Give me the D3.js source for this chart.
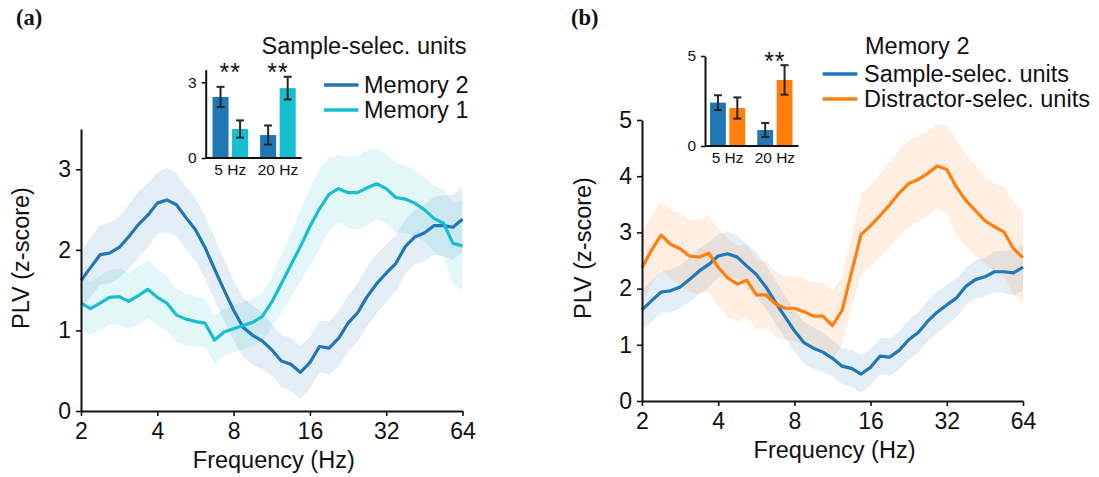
<!DOCTYPE html>
<html>
<head>
<meta charset="utf-8">
<script src="https://cdn.jsdelivr.net/npm/d3@7"></script>
<style>
  body { margin: 0; background: #fff; }
  text { font-family: "Liberation Sans", Arial, Helvetica, sans-serif; fill: #111; }
  .domain { stroke: #111; stroke-width: 2; }
  .tick line { stroke: #111; stroke-width: 1.6; }
  .panel-label { font-family: "Liberation Serif", "Times New Roman", serif; font-weight: bold; font-size: 22.5px; }
</style>
</head>
<body>
<div id="box-div"></div>
<script>
// frequency grid (Hz), 1/8 octave steps
const freqs = [2.00, 2.18, 2.38, 2.59, 2.83, 3.08, 3.36, 3.67, 4.00, 4.36,
    4.76, 5.19, 5.66, 6.17, 6.73, 7.34, 8.00, 8.72, 9.51, 10.37,
    11.31, 12.34, 13.45, 14.67, 16.00, 17.45, 19.03, 20.75, 22.63, 24.68,
    26.91, 29.34, 32.00, 34.90, 38.05, 41.50, 45.25, 49.35, 53.82, 58.69, 64.00];

// sample-selective units, memory 2 (also the blue curve of panel b)
const sampleMem2 = [1.62, 1.78, 1.94, 1.96, 2.03, 2.16, 2.31, 2.43, 2.58, 2.62,
    2.56, 2.40, 2.25, 2.03, 1.76, 1.50, 1.25, 1.04, 0.94, 0.87,
    0.76, 0.62, 0.58, 0.48, 0.60, 0.80, 0.78, 0.90, 1.09, 1.22,
    1.42, 1.58, 1.71, 1.83, 2.04, 2.16, 2.21, 2.30, 2.30, 2.28, 2.38];
const sampleMem2Sem = [0.36, 0.37, 0.37, 0.38, 0.38, 0.40, 0.41, 0.40, 0.38, 0.40,
    0.39, 0.39, 0.39, 0.39, 0.39, 0.38, 0.37, 0.37, 0.37, 0.35,
    0.32, 0.32, 0.33, 0.33, 0.32, 0.32, 0.33, 0.34, 0.35, 0.36,
    0.37, 0.37, 0.36, 0.35, 0.33, 0.34, 0.35, 0.36, 0.38, 0.40, 0.41];

// sample-selective units, memory 1
const sampleMem1 = [1.34, 1.27, 1.34, 1.41, 1.42, 1.36, 1.43, 1.51, 1.41, 1.34,
    1.19, 1.14, 1.11, 1.09, 0.88, 0.98, 1.02, 1.06, 1.10, 1.17,
    1.35, 1.58, 1.81, 2.04, 2.29, 2.51, 2.69, 2.76, 2.71, 2.71,
    2.77, 2.82, 2.76, 2.65, 2.63, 2.58, 2.50, 2.39, 2.33, 2.08, 2.05];
const sampleMem1Sem = [0.33, 0.33, 0.34, 0.34, 0.35, 0.35, 0.36, 0.36, 0.35, 0.34,
    0.33, 0.32, 0.31, 0.30, 0.30, 0.29, 0.29, 0.29, 0.29, 0.30,
    0.32, 0.36, 0.40, 0.44, 0.48, 0.50, 0.46, 0.42, 0.44, 0.46,
    0.47, 0.44, 0.43, 0.43, 0.42, 0.41, 0.40, 0.41, 0.42, 0.50, 0.56];

// distractor-selective units, memory 2
const distrMem2 = [2.37, 2.68, 2.95, 2.79, 2.71, 2.58, 2.56, 2.63, 2.38, 2.19,
    2.08, 2.15, 1.89, 1.89, 1.73, 1.65, 1.65, 1.59, 1.51, 1.51,
    1.34, 1.61, 2.29, 2.96, 3.12, 3.30, 3.49, 3.70, 3.87, 3.94,
    4.05, 4.18, 4.12, 3.81, 3.57, 3.39, 3.21, 3.10, 3.01, 2.71, 2.55];
const distrMem2Sem = [0.62, 0.62, 0.60, 0.62, 0.63, 0.64, 0.66, 0.68, 0.69, 0.70,
    0.68, 0.65, 0.62, 0.60, 0.58, 0.57, 0.58, 0.59, 0.60, 0.60,
    0.62, 0.60, 0.65, 0.71, 0.73, 0.75, 0.77, 0.77, 0.77, 0.77,
    0.76, 0.74, 0.78, 0.85, 0.82, 0.80, 0.77, 0.78, 0.80, 0.83, 0.80];

const freqTicks = [2, 4, 8, 16, 32, 64];

// inset bar charts
const barGroups = ['5 Hz', '20 Hz'];
const barsA2 = [2.42, 0.91], barsA2Err = [0.40, 0.38];
const barsA1 = [1.15, 2.77], barsA1Err = [0.34, 0.45];
const starsA = ['**', '**'];
const barsBSample = [2.41, 0.89], barsBSampleErr = [0.41, 0.39];
const barsBDistr = [2.11, 3.67], barsBDistrErr = [0.59, 0.82];
const starsB = ['', '**'];

const colors = { blue: '#1f77b4', cyan: '#17becf', orange: '#ff7f0e' };

const dms = { width: 1099, height: 477 };

const box = d3.select('#box-div').append('svg')
    .attr('width', dms.width)
    .attr('height', dms.height);

function drawPanel(opt) {
    const x = d3.scaleLog().base(2).domain([2, 64]).range(opt.xRange);
    const y = d3.scaleLinear().domain(opt.yDomain).range(opt.yRange);
    const g = box.append('g');

    opt.series.forEach(s => {
        const pts = freqs.map((f, i) => ({ f: f, m: s.mean[i], e: s.sem[i] }));
        g.append('path')
            .datum(pts)
            .attr('fill', s.color)
            .attr('fill-opacity', 0.12)
            .attr('d', d3.area().x(d => x(d.f)).y0(d => y(d.m - d.e)).y1(d => y(d.m + d.e)));
    });
    opt.series.forEach(s => {
        const pts = freqs.map((f, i) => ({ f: f, m: s.mean[i] }));
        g.append('path')
            .datum(pts)
            .attr('fill', 'none')
            .attr('stroke', s.color)
            .attr('stroke-width', 3.2)
            .attr('stroke-linejoin', 'round')
            .attr('d', d3.line().x(d => x(d.f)).y(d => y(d.m)));
    });

    const xAxis = g.append('g')
        .attr('transform', `translate(0,${opt.yRange[0]})`)
        .call(d3.axisBottom(x).tickValues(freqTicks).tickFormat(d3.format('d'))
            .tickSize(5).tickSizeOuter(0).tickPadding(7));
    xAxis.selectAll('text').style('font-size', '23px');

    const yAxis = g.append('g')
        .attr('transform', `translate(${opt.xRange[0]},0)`)
        .call(d3.axisLeft(y).tickValues(opt.yTicks).tickFormat(d3.format('d'))
            .tickSize(5).tickSizeOuter(0).tickPadding(5));
    yAxis.selectAll('text').style('font-size', '23px');

    g.append('text')
        .attr('x', (opt.xRange[0] + opt.xRange[1]) / 2 + 2)
        .attr('y', opt.xLabelY)
        .attr('text-anchor', 'middle')
        .style('font-size', '23.5px')
        .text('Frequency (Hz)');

    g.append('text')
        .attr('transform', `translate(${opt.yLabelX},${opt.yLabelY}) rotate(-90)`)
        .attr('text-anchor', 'middle')
        .style('font-size', '23.5px')
        .text('PLV (z-score)');

    box.append('text')
        .attr('class', 'panel-label')
        .attr('x', opt.tag[0])
        .attr('y', opt.tag[1])
        .text(opt.tag[2]);
}

function drawInset(opt) {
    const x = d3.scaleBand().domain(barGroups).range(opt.xRange).padding(0);
    const sub = d3.scaleBand().domain([0, 1]).range([6, x.bandwidth() - 6]).paddingInner(0.18);
    const y = d3.scaleLinear().domain(opt.yDomain).range(opt.yRange);
    const g = box.append('g');

    opt.bars.forEach((b, k) => {
        barGroups.forEach((grp, i) => {
            const bx = x(grp) + sub(k);
            g.append('rect')
                .attr('x', bx)
                .attr('y', y(b.vals[i]))
                .attr('width', sub.bandwidth())
                .attr('height', y(0) - y(b.vals[i]))
                .attr('fill', b.color);
            const cx = bx + sub.bandwidth() / 2;
            const lo = y(b.vals[i] - b.errs[i]), hi = y(b.vals[i] + b.errs[i]);
            g.append('line').attr('x1', cx).attr('x2', cx).attr('y1', lo).attr('y2', hi)
                .attr('stroke', '#262626').attr('stroke-width', 2);
            [lo, hi].forEach(v => {
                g.append('line').attr('x1', cx - 4).attr('x2', cx + 4).attr('y1', v).attr('y2', v)
                    .attr('stroke', '#262626').attr('stroke-width', 2);
            });
        });
    });

    barGroups.forEach((grp, i) => {
        g.append('text')
            .attr('x', x(grp) + x.bandwidth() / 2)
            .attr('y', opt.starY)
            .attr('text-anchor', 'middle')
            .style('font-size', '25px')
            .style('letter-spacing', '1px')
            .text(opt.stars[i]);
    });

    const xa = g.append('g')
        .attr('transform', `translate(0,${opt.yRange[0]})`)
        .call(d3.axisBottom(x).tickSize(0).tickSizeOuter(0).tickPadding(6));
    xa.selectAll('text').style('font-size', '15.5px');
    xa.select('.domain').attr('d', `M${opt.axisX},0H${opt.xRange[1]}`);

    const ya = g.append('g')
        .attr('transform', `translate(${opt.axisX},0)`)
        .call(d3.axisLeft(y).tickValues(opt.yTicks).tickFormat(d3.format('d'))
            .tickSize(4).tickSizeOuter(0).tickPadding(5));
    ya.selectAll('text').style('font-size', '15.5px');
}

function drawLegend(opt) {
    const g = box.append('g');
    g.append('text')
        .attr('x', opt.titleX)
        .attr('y', opt.titleY)
        .style('font-size', opt.size)
        .text(opt.title);
    opt.items.forEach((it, i) => {
        const cy = opt.rowY[i];
        g.append('line')
            .attr('x1', opt.lineX[0]).attr('x2', opt.lineX[1])
            .attr('y1', cy).attr('y2', cy)
            .attr('stroke', it.color).attr('stroke-width', 3.5);
        g.append('text')
            .attr('x', opt.textX)
            .attr('y', cy)
            .attr('dy', '0.36em')
            .style('font-size', opt.size)
            .text(it.label);
    });
}

// panel (a)
drawPanel({
    xRange: [81, 462.5], yDomain: [0, 3.5], yRange: [411, 129], yTicks: [0, 1, 2, 3],
    xLabelY: 468, yLabelX: 29, yLabelY: 258, tag: [16, 25, '(a)'],
    series: [
        { mean: sampleMem2, sem: sampleMem2Sem, color: colors.blue },
        { mean: sampleMem1, sem: sampleMem1Sem, color: colors.cyan }
    ]
});
drawInset({
    xRange: [206.5, 301.7], axisX: 205.7, yDomain: [0, 3.5], yRange: [158, 69.7], yTicks: [0, 3],
    starY: 81, stars: starsA,
    bars: [
        { vals: barsA2, errs: barsA2Err, color: colors.blue },
        { vals: barsA1, errs: barsA1Err, color: colors.cyan }
    ]
});
drawLegend({
    title: 'Sample-selec. units', titleX: 261.5, titleY: 54, size: '23.5px',
    lineX: [324, 358.5], textX: 364, rowY: [85, 110],
    items: [{ label: 'Memory 2', color: colors.blue }, { label: 'Memory 1', color: colors.cyan }]
});

// panel (b)
drawPanel({
    xRange: [642, 1023], yDomain: [0, 5], yRange: [401, 120], yTicks: [0, 1, 2, 3, 4, 5],
    xLabelY: 458, yLabelX: 591, yLabelY: 248, tag: [571, 25, '(b)'],
    series: [
        { mean: sampleMem2, sem: sampleMem2Sem, color: colors.blue },
        { mean: distrMem2, sem: distrMem2Sem, color: colors.orange }
    ]
});
drawInset({
    xRange: [704, 798.5], axisX: 705, yDomain: [0, 5], yRange: [146, 56], yTicks: [0, 5],
    starY: 69.5, stars: starsB,
    bars: [
        { vals: barsBSample, errs: barsBSampleErr, color: colors.blue },
        { vals: barsBDistr, errs: barsBDistrErr, color: colors.orange }
    ]
});
drawLegend({
    title: 'Memory 2', titleX: 865, titleY: 54, size: '23.5px',
    lineX: [822.7, 857.3], textX: 864, rowY: [74, 99],
    items: [{ label: 'Sample-selec. units', color: colors.blue }, { label: 'Distractor-selec. units', color: colors.orange }]
});
</script>
</body>
</html>
